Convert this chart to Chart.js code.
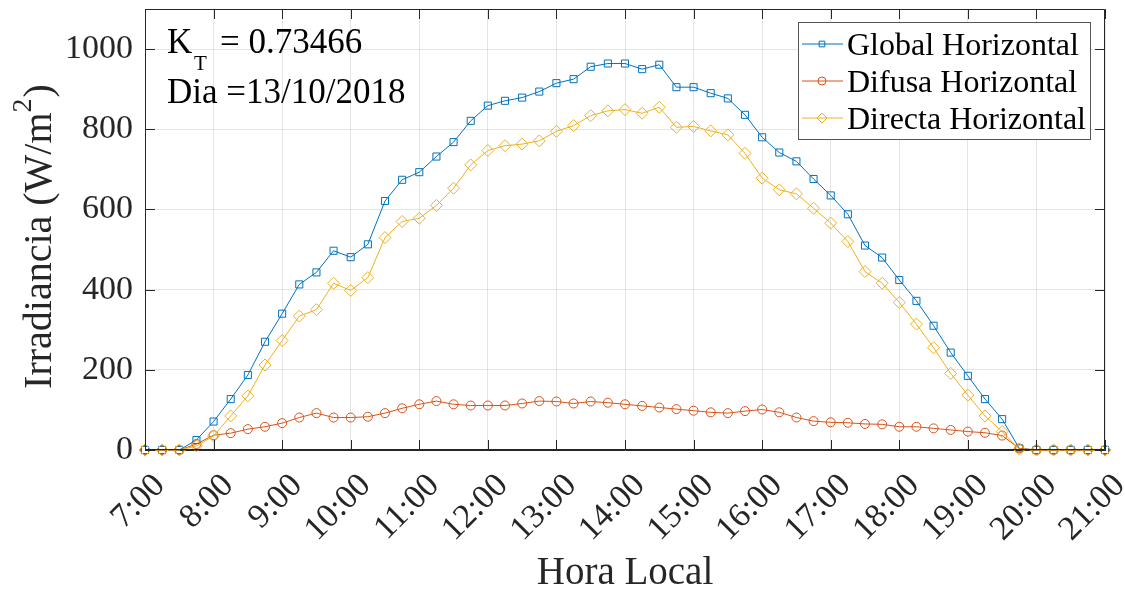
<!DOCTYPE html>
<html>
<head>
<meta charset="utf-8">
<script src="https://cdn.jsdelivr.net/npm/chart.js@4.4.1/dist/chart.umd.min.js"></script>
<style>
  html, body { margin: 0; padding: 0; background: #fff; }
  #grafico { display: block; }
</style>
</head>
<body>
<canvas id="grafico" width="1125" height="590"></canvas>
<script>
const horas = ['7:00', '7:15', '7:30', '7:45', '8:00', '8:15', '8:30', '8:45', '9:00', '9:15', '9:30', '9:45',
    '10:00', '10:15', '10:30', '10:45', '11:00', '11:15', '11:30', '11:45', '12:00', '12:15', '12:30', '12:45',
    '13:00', '13:15', '13:30', '13:45', '14:00', '14:15', '14:30', '14:45', '15:00', '15:15', '15:30', '15:45',
    '16:00', '16:15', '16:30', '16:45', '17:00', '17:15', '17:30', '17:45', '18:00', '18:15', '18:30', '18:45',
    '19:00', '19:15', '19:30', '19:45', '20:00', '20:15', '20:30', '20:45', '21:00'];

const globalHorizontal = [0, 0, 0, 25, 71, 127, 187, 270, 340, 413, 443, 497,
    481, 513, 621, 674, 693, 732, 768, 821, 859, 871, 879, 894,
    915, 925, 956, 964, 964, 950, 961, 905, 905, 890, 877, 836,
    780, 742, 720, 676, 635, 588, 510, 480, 424, 372, 310, 243,
    185, 127, 77, 4, 0, 0, 0, 0, 0];

const difusaHorizontal = [0, 0, 0, 15, 37, 42, 52, 58, 67, 81, 92, 81,
    81, 83, 92, 104, 114, 122, 114, 111, 111, 111, 116, 122,
    121, 116, 121, 118, 114, 110, 106, 102, 98, 94, 92, 97,
    101, 94, 81, 72, 69, 68, 65, 64, 58, 58, 54, 50,
    46, 43, 36, 4, 0, 0, 0, 0, 0];

const directaHorizontal = [0, 0, 0, 10, 35, 85, 135, 212, 273, 334, 350, 416,
    398, 430, 530, 570, 578, 610, 653, 711, 747, 759, 763, 771,
    795, 809, 834, 846, 849, 840, 855, 805, 807, 796, 786, 740,
    678, 649, 639, 603, 566, 520, 445, 416, 368, 314, 255, 191,
    137, 85, 46, 2, 0, 0, 0, 0, 0];

const series = ['Global Horizontal', 'Difusa Horizontal', 'Directa Horizontal'];
const colores = ['#0072BD', '#D95319', '#EDB120'];
const marcadores = ['rect', 'circle', 'rectRot'];
const radios = [5, 4.5, 6];

const fuente = 'Liberation Serif, Times New Roman, serif';
const colorTexto = '#262626';
const colorRejilla = 'rgba(0,0,0,0.1)';

function serie(i, datos, orden) {
    return {
        label: series[i],
        data: datos,
        borderColor: colores[i],
        borderWidth: 1,
        pointStyle: marcadores[i],
        pointRadius: radios[i],
        pointBorderWidth: 1,
        pointBorderColor: colores[i],
        pointBackgroundColor: 'rgba(0,0,0,0)',
        tension: 0,
        clip: false,
        order: orden
    };
}

function sinPadding(scale) {
    scale.paddingLeft = 0;
    scale.paddingRight = 0;
    scale.paddingTop = 0;
    scale.paddingBottom = 0;
}

// ticks hacia dentro, caja, leyenda y anotaciones al estilo MATLAB
const decoracion = {
    id: 'decoracion',
    afterDraw(chart) {
        const ctx = chart.ctx;
        const a = chart.chartArea;
        const xs = chart.scales.x;
        const ys = chart.scales.y;
        ctx.save();

        ctx.strokeStyle = colorTexto;
        ctx.lineWidth = 1;
        ctx.beginPath();
        ctx.rect(a.left + 0.5, a.top + 0.5, a.right - a.left - 1, a.bottom - a.top - 1);
        ctx.stroke();

        ctx.beginPath();
        horas.forEach((h, i) => {
            if (!h.endsWith(':00')) return;
            const px = Math.round(xs.getPixelForValue(i)) + 0.5;
            ctx.moveTo(px, a.bottom); ctx.lineTo(px, a.bottom - 10);
            ctx.moveTo(px, a.top); ctx.lineTo(px, a.top + 10);
        });
        for (let v = 0; v <= 1000; v += 200) {
            const py = Math.round(ys.getPixelForValue(v)) + 0.5;
            ctx.moveTo(a.left, py); ctx.lineTo(a.left + 10, py);
            ctx.moveTo(a.right, py); ctx.lineTo(a.right - 10, py);
        }
        ctx.stroke();

        // leyenda
        const lx = 798, ly = 22, lw = 292, lh = 117;
        ctx.fillStyle = '#fff';
        ctx.fillRect(lx, ly, lw, lh);
        ctx.strokeStyle = '#555';
        ctx.strokeRect(lx + 0.5, ly + 0.5, lw, lh);
        const filas = [44, 81, 118];
        ctx.font = '32px ' + fuente;
        ctx.textAlign = 'left';
        ctx.textBaseline = 'alphabetic';
        series.forEach((s, i) => {
            const fy = filas[i];
            ctx.strokeStyle = colores[i];
            ctx.lineWidth = 1;
            ctx.beginPath();
            ctx.moveTo(802, fy); ctx.lineTo(843, fy);
            ctx.stroke();
            ctx.fillStyle = 'rgba(0,0,0,0)';
            Chart.helpers.drawPoint(ctx, {
                pointStyle: marcadores[i], radius: i === 2 ? 5 : 4, rotation: 0, borderWidth: 1
            }, 822, fy);
            ctx.fillStyle = '#000';
            ctx.fillText(s, 847, fy + 11);
        });

        // anotaciones
        ctx.fillStyle = '#000';
        ctx.font = '35px ' + fuente;
        ctx.fillText('K', 167, 53);
        ctx.font = '21px ' + fuente;
        ctx.fillText('T', 194, 70);
        ctx.font = '35px ' + fuente;
        ctx.fillText('= 0.73466', 220, 53);
        ctx.fillText('Dia =13/10/2018', 167, 103);

        // titulo del eje y con superindice
        ctx.translate(40, 237);
        ctx.rotate(-Math.PI / 2);
        ctx.fillStyle = colorTexto;
        const t1 = 'Irradiancia (W/m', t2 = '2', t3 = ')';
        ctx.font = '40px ' + fuente;
        const w1 = ctx.measureText(t1).width, w3 = ctx.measureText(t3).width;
        ctx.font = '28px ' + fuente;
        const w2 = ctx.measureText(t2).width;
        const x0 = -(w1 + w2 + w3) / 2;
        ctx.textBaseline = 'middle';
        ctx.font = '40px ' + fuente;
        ctx.fillText(t1, x0, 0);
        ctx.font = '28px ' + fuente;
        ctx.fillText(t2, x0 + w1, -16);
        ctx.font = '40px ' + fuente;
        ctx.fillText(t3, x0 + w1 + w2 + 1, 0);

        ctx.restore();
    }
};

const ctxGrafico = document.getElementById('grafico').getContext('2d');
const grafico = new Chart(ctxGrafico, {
    type: 'line',
    data: {
        labels: horas,
        datasets: [
            serie(0, globalHorizontal, 3),
            serie(1, difusaHorizontal, 2),
            serie(2, directaHorizontal, 1)
        ]
    },
    options: {
        responsive: false,
        animation: false,
        events: [],
        layout: { padding: { top: 9, right: 20, left: 0, bottom: 0 } },
        plugins: {
            legend: { display: false },
            tooltip: { enabled: false }
        },
        scales: {
            x: {
                type: 'category',
                offset: false,
                afterFit: (scale) => { scale.height = 140; sinPadding(scale); },
                grid: {
                    drawTicks: false,
                    color: (c) => (c.tick && horas[c.tick.value] && horas[c.tick.value].endsWith(':00')) ? colorRejilla : 'rgba(0,0,0,0)'
                },
                border: { display: true, color: colorTexto, width: 1 },
                ticks: {
                    autoSkip: false,
                    maxRotation: 45,
                    minRotation: 45,
                    padding: 16,
                    labelOffset: 15,
                    color: colorTexto,
                    font: { family: fuente, size: 34 },
                    callback: function (v, i) {
                        const h = horas[i];
                        return h.endsWith(':00') ? h : '';
                    }
                },
                title: {
                    display: true,
                    text: 'Hora Local',
                    color: colorTexto,
                    font: { family: fuente, size: 39, lineHeight: 0.85 },
                    padding: { top: 0, bottom: 0 }
                }
            },
            y: {
                min: 0,
                max: 1100,
                afterFit: (scale) => { scale.width = 145; sinPadding(scale); },
                grid: {
                    drawTicks: false,
                    color: (c) => (c.tick && c.tick.value > 1000) ? 'rgba(0,0,0,0)' : colorRejilla
                },
                border: { display: true, color: colorTexto, width: 1 },
                ticks: {
                    stepSize: 200,
                    padding: 12,
                    color: colorTexto,
                    font: { family: fuente, size: 34 },
                    callback: (v) => v <= 1000 ? v : ''
                }
            }
        }
    },
    plugins: [decoracion]
});
</script>
</body>
</html>
